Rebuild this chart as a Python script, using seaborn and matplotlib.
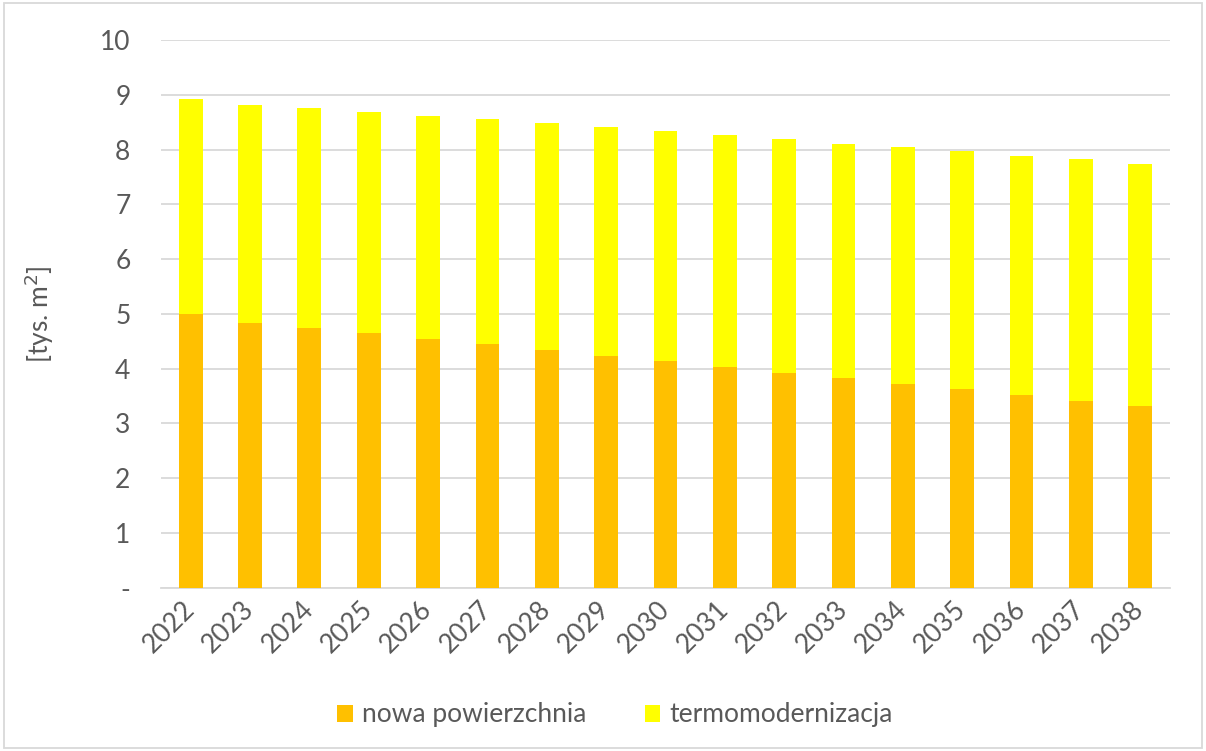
import matplotlib
matplotlib.use("Agg")
import matplotlib.pyplot as plt
from matplotlib.patches import Patch, Rectangle
import numpy as np
import pandas as pd
import seaborn as sns

years = [str(y) for y in range(2022, 2039)]
nowa_powierzchnia = [5.00, 4.84, 4.74, 4.64, 4.54, 4.44, 4.33, 4.23, 4.13,
                     4.03, 3.92, 3.83, 3.72, 3.62, 3.52, 3.41, 3.32]
termomodernizacja = [3.92, 3.98, 4.01, 4.04, 4.07, 4.11, 4.15, 4.18, 4.20,
                     4.24, 4.27, 4.28, 4.32, 4.35, 4.37, 4.41, 4.42]
y_ticks = [0, 1, 2, 3, 4, 5, 6, 7, 8, 9, 10]
y_tick_labels = ["-", "1", "2", "3", "4", "5", "6", "7", "8", "9", "10"]

sns.set_theme(style="white")
plt.rcParams["font.family"] = ["Lato", "DejaVu Sans"]

ORANGE = "#FFC000"
YELLOW = "#FFFF00"
GRID = "#D9D9D9"
TEXT = "#595959"
FS = 19

df = pd.DataFrame({
    "rok": years,
    "nowa": nowa_powierzchnia,
    "termo": termomodernizacja,
})
df["razem"] = df["nowa"] + df["termo"]

fig = plt.figure(figsize=(12.06, 7.51), dpi=100)
ax = fig.add_axes([0.1335, 0.2177, 0.8365, 0.729])

# stacked bars: full height in yellow, lower segment in orange
sns.barplot(data=df, x="rok", y="razem", color=YELLOW, saturation=1,
            width=0.4, ax=ax, zorder=3, linewidth=0)
sns.barplot(data=df, x="rok", y="nowa", color=ORANGE, saturation=1,
            width=0.4, ax=ax, zorder=3, linewidth=0)

ax.set_ylim(0, 10)
ax.set_xlim(-0.5, len(years) - 0.5)
ax.set_yticks(y_ticks)
ax.set_yticklabels(y_tick_labels)
ax.yaxis.grid(True, color=GRID, linewidth=1.3, zorder=0)
ax.set_axisbelow(True)
for side in ["left", "right", "top"]:
    ax.spines[side].set_visible(False)
ax.spines["bottom"].set_color(GRID)
ax.spines["bottom"].set_linewidth(1.3)
ax.tick_params(axis="both", length=0, colors=TEXT, labelsize=FS)
ax.tick_params(axis="y", pad=22)
ax.tick_params(axis="x", pad=13)
for lbl in ax.get_xticklabels():
    lbl.set_rotation(45)
    lbl.set_ha("right")
    lbl.set_va("center")
    lbl.set_rotation_mode("anchor")

ax.set_xlabel("")
ax.set_ylabel("[tys. m$^2$]", color=TEXT, fontsize=FS, labelpad=32)

handles = [Patch(facecolor=ORANGE, edgecolor="none", label="nowa powierzchnia"),
           Patch(facecolor=YELLOW, edgecolor="none", label="termomodernizacja")]
fig.legend(handles=handles, loc="center", bbox_to_anchor=(0.51, 0.048),
           ncol=2, frameon=False, fontsize=FS, labelcolor=TEXT,
           handlelength=0.6, handleheight=0.6, handletextpad=0.35,
           columnspacing=2.2)

fig.add_artist(Rectangle((0.003, 0.004), 0.994, 0.992, transform=fig.transFigure,
                         fill=False, edgecolor=GRID, linewidth=1.3))

fig.savefig("out.png", dpi=100)
